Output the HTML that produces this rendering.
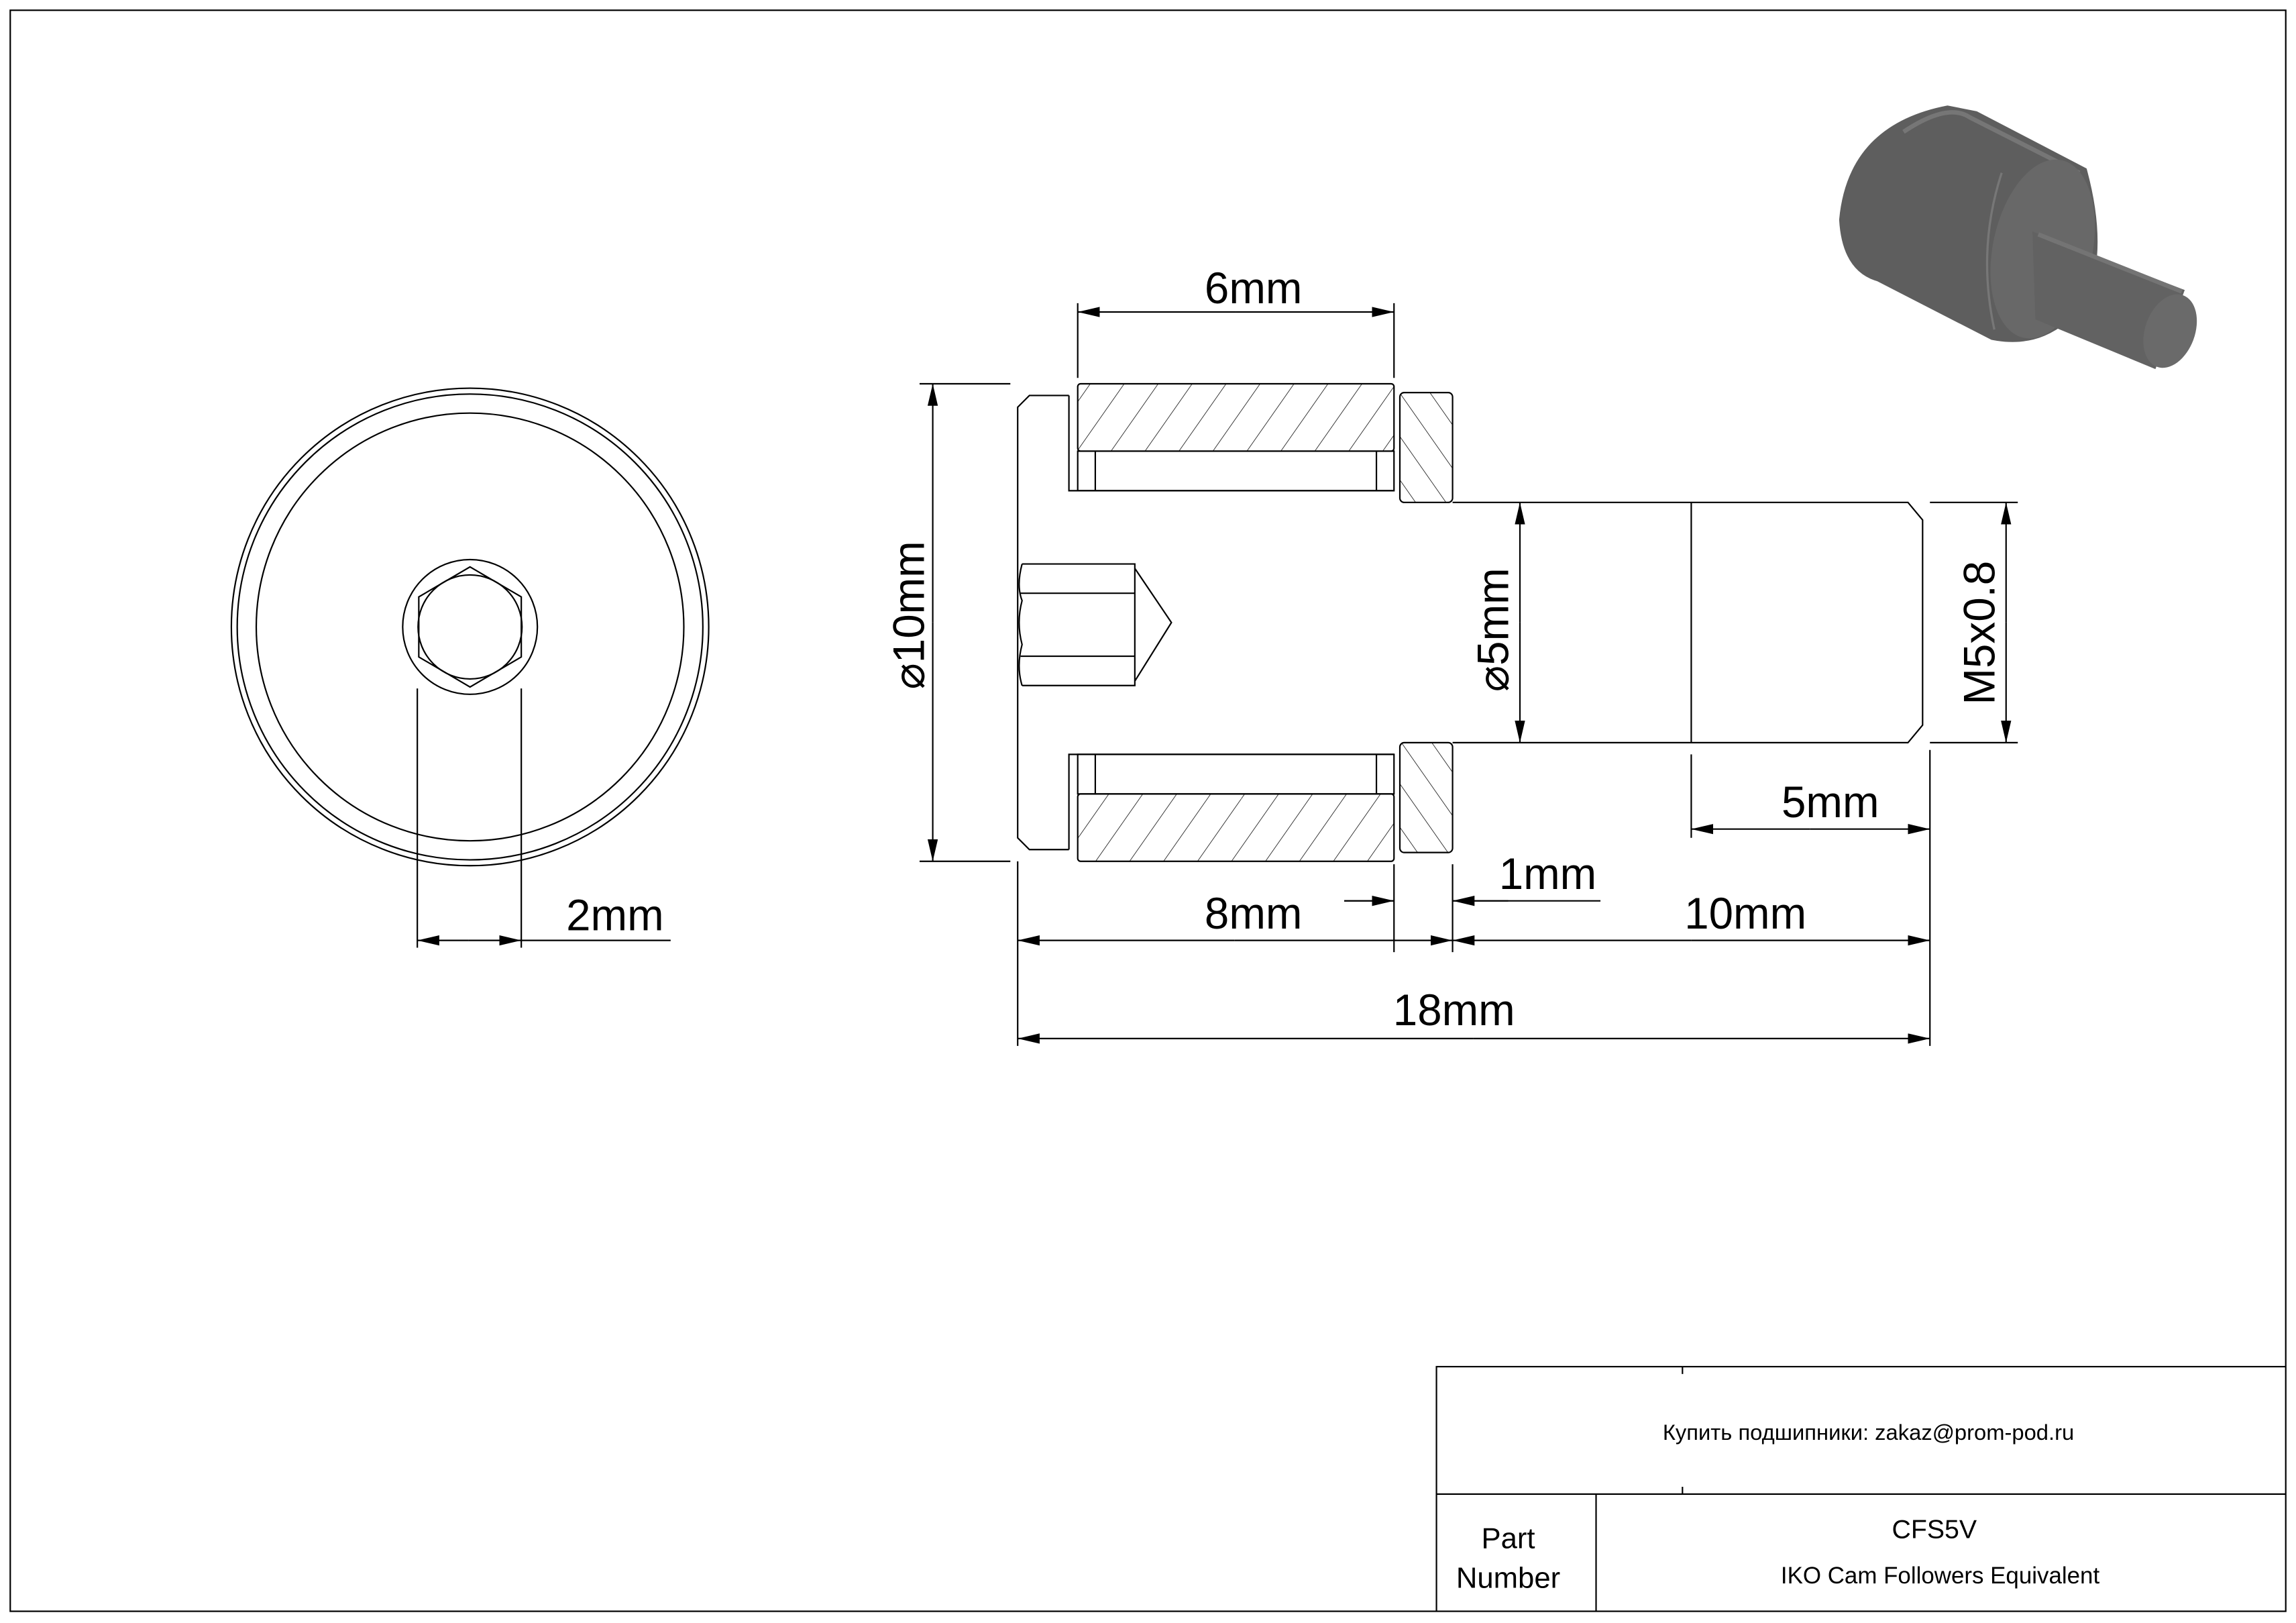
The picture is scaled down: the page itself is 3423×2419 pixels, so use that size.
<!DOCTYPE html>
<html><head><meta charset="utf-8"><style>html,body{margin:0;padding:0;background:#fff}svg{display:block}</style></head><body>
<svg width="3423" height="2419" viewBox="0 0 1568 1108" preserveAspectRatio="none" xmlns="http://www.w3.org/2000/svg" font-family="Liberation Sans, sans-serif">
<defs>
<marker id="a" markerUnits="userSpaceOnUse" markerWidth="16" markerHeight="8" refX="15" refY="3.5" orient="auto-start-reverse"><path d="M0,0 L15,3.5 L0,7 z" fill="#000"/></marker>
<pattern id="h1" patternUnits="userSpaceOnUse" width="19" height="19" patternTransform="rotate(35)"><line x1="0" y1="0" x2="0" y2="19" stroke="#000" stroke-width="0.7"/></pattern>
<pattern id="h2" patternUnits="userSpaceOnUse" width="17" height="17" patternTransform="rotate(-35)"><line x1="0" y1="0" x2="0" y2="17" stroke="#000" stroke-width="0.7"/></pattern>
</defs>
<rect width="1568" height="1108" fill="#fff"/>
<g fill="none" stroke="#000" stroke-width="1">
<rect x="7" y="7" width="1554" height="1093"/>
<path d="M981,1100 V933 H1561 M981,1020 H1561 M1090,1020 V1100 M1149,933 V938 M1149,1015 V1020"/>
<circle cx="321" cy="428" r="163"/><circle cx="321" cy="428" r="159"/><circle cx="321" cy="428" r="146"/>
<circle cx="321" cy="428" r="46"/><circle cx="321" cy="428" r="35.5"/>
<polygon points="321,387 356,407.5 356,448.5 321,469 286,448.5 286,407.5"/>
<path d="M285,470 V647 M356,470 V647 M356,642 H458"/>
<line x1="320" y1="642" x2="285" y2="642" marker-end="url(#a)"/>
<line x1="320" y1="642" x2="356" y2="642" marker-end="url(#a)"/>
<path d="M730,270 H703 L695,278 V572 L703,580 H730 M730,270 V335 H952 M730,580 V515 H952"/>
<rect x="736" y="262" width="216" height="46" rx="2" fill="url(#h1)"/>
<rect x="736" y="308" width="216" height="27" fill="none"/>
<path d="M748,308 V335 M940,308 V335 M748,515 V542 M940,515 V542"/>
<rect x="736" y="542" width="216" height="46" rx="2" fill="url(#h1)"/>
<rect x="736" y="515" width="216" height="27" fill="none"/>
<rect x="956" y="268" width="36" height="75" rx="3" fill="url(#h2)"/>
<rect x="956" y="507" width="36" height="75" rx="3" fill="url(#h2)"/>
<path d="M992,343 H1303 L1313,355 V495 L1303,507 H992 M1155,343 V507"/>
<path d="M698,385 H775 V468 H698 M697,405 H775 M697,448 H775 M775,388 L800,425 L775,465 M698,385 Q694,400 698,410 Q694,425 698,440 Q694,455 698,468"/>
<path d="M736,207 V258 M952,207 V258 M628,262 H690 M628,588 H690 M1318,343 H1378 M1318,507 H1378 M1155,515 V572 M1318,512 V714 M952,590 V650 M992,590 V650 M695,588 V714 M992,615 H1093 M918,615 H952"/>
<line x1="844" y1="213" x2="736" y2="213" marker-end="url(#a)"/><line x1="844" y1="213" x2="952" y2="213" marker-end="url(#a)"/>
<line x1="637" y1="425" x2="637" y2="262" marker-end="url(#a)"/><line x1="637" y1="425" x2="637" y2="588" marker-end="url(#a)"/>
<line x1="1038" y1="425" x2="1038" y2="343" marker-end="url(#a)"/><line x1="1038" y1="425" x2="1038" y2="507" marker-end="url(#a)"/>
<line x1="1370" y1="425" x2="1370" y2="343" marker-end="url(#a)"/><line x1="1370" y1="425" x2="1370" y2="507" marker-end="url(#a)"/>
<line x1="1236" y1="566" x2="1155" y2="566" marker-end="url(#a)"/><line x1="1236" y1="566" x2="1318" y2="566" marker-end="url(#a)"/>
<line x1="918" y1="615" x2="952" y2="615" marker-end="url(#a)"/><line x1="1030" y1="615" x2="992" y2="615" marker-end="url(#a)"/>
<line x1="843" y1="642" x2="695" y2="642" marker-end="url(#a)"/><line x1="843" y1="642" x2="992" y2="642" marker-end="url(#a)"/>
<line x1="1155" y1="642" x2="992" y2="642" marker-end="url(#a)"/><line x1="1155" y1="642" x2="1318" y2="642" marker-end="url(#a)"/>
<line x1="1006" y1="709" x2="695" y2="709" marker-end="url(#a)"/><line x1="1006" y1="709" x2="1318" y2="709" marker-end="url(#a)"/>
</g>
<g>
<path d="M1330,72 Q1262,85 1256,150 Q1258,185 1282,192 L1360,232 Q1400,240 1425,205 Q1440,170 1425,115 L1350,76 Z" fill="#5e5e5e"/>
<path d="M1300,90 Q1330,70 1345,80 L1420,118" stroke="#767676" stroke-width="3" fill="none"/>
<ellipse cx="1395" cy="170" rx="34" ry="62" transform="rotate(12 1395 170)" fill="#686868"/>
<path d="M1367,118 Q1350,170 1362,225" stroke="#777" stroke-width="1.5" fill="none"/>
<path d="M1388,158 L1492,198 L1472,252 L1390,218 Z" fill="#626262"/>
<path d="M1392,160 L1490,199" stroke="#747474" stroke-width="3"/>
<ellipse cx="1482" cy="226" rx="17" ry="26" transform="rotate(20 1482 226)" fill="#6a6a6a"/>
</g>
<g font-size="30" text-anchor="middle" fill="#000">
<text x="856" y="207">6mm</text>
<text x="420" y="635">2mm</text>
<text x="1250" y="558">5mm</text>
<text x="1057" y="607">1mm</text>
<text x="856" y="634">8mm</text>
<text x="1192" y="634">10mm</text>
<text x="993" y="700">18mm</text>
<text transform="translate(631,420) rotate(-90)">⌀10mm</text>
<text transform="translate(1030,430) rotate(-90)">⌀5mm</text>
<text transform="translate(1362,432) rotate(-90)">M5x0.8</text>
</g>
<g text-anchor="middle" fill="#000">
<text x="1276" y="983" font-size="15" font-family="Liberation Sans, DejaVu Sans, sans-serif">Купить подшипники: zakaz@prom-pod.ru</text>
<text x="1030" y="1057" font-size="20">Part</text>
<text x="1030" y="1084" font-size="20">Number</text>
<text x="1321" y="1050" font-size="18">CFS5V</text>
<text x="1325" y="1081" font-size="16">IKO Cam Followers Equivalent</text>
</g>
</svg>
</body></html>
